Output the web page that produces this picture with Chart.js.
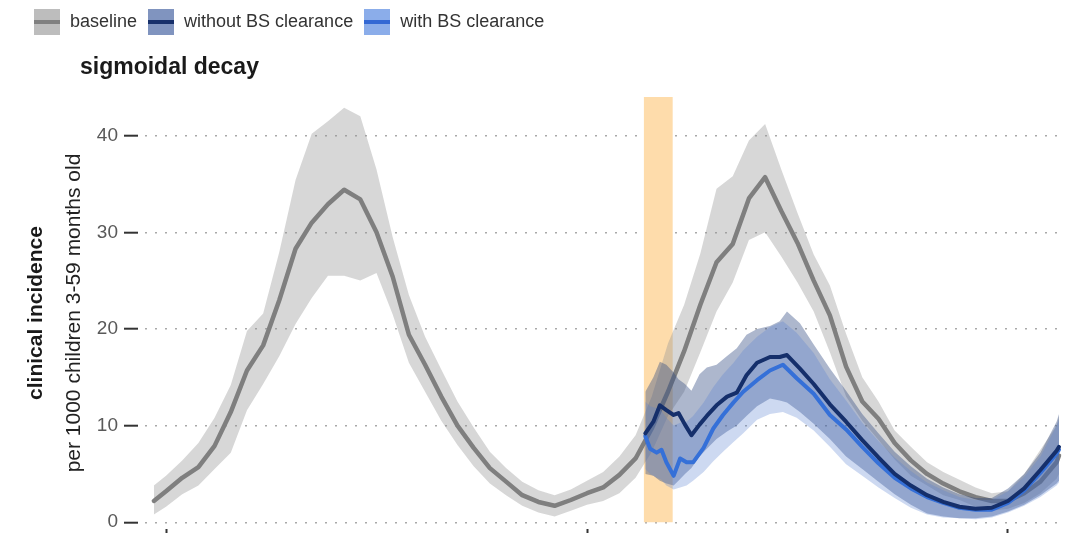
<!DOCTYPE html>
<html>
<head>
<meta charset="utf-8">
<script src="https://cdn.jsdelivr.net/npm/chart.js@4.4.1/dist/chart.umd.min.js"></script>
<style>
  html, body { margin: 0; padding: 0; background: #ffffff; overflow: hidden; }
  canvas { display: block; }
</style>
</head>
<body>
<canvas id="chart" width="1069" height="533"></canvas>
<script>
// ---- data (time in weeks, incidence per 1000 children 3-59 months old) ----
const seriesNames = ['baseline', 'without BS clearance', 'with BS clearance'];

const weeksBaseline = [-1.5, 0, 2, 4, 6, 8, 10, 12, 14, 16, 18, 20, 22, 24, 26, 28, 30, 32, 34, 36, 38, 40,
  42, 44, 46, 48, 50, 52, 54, 56, 58, 60, 62, 64, 66, 68, 70, 72, 74, 76, 78, 80, 82, 84, 86, 88, 90,
  92, 94, 96, 98, 100, 102, 104, 106, 108, 110, 110.3];
const baselineMean = [2.2, 3.2, 4.6, 5.7, 7.9, 11.4, 15.7, 18.3, 23.0, 28.3, 31.0, 32.9, 34.4, 33.4, 30.0, 25.4,
  19.4, 16.3, 13.0, 10.0, 7.7, 5.6, 4.2, 2.8, 2.1, 1.7, 2.3, 3.0, 3.6, 4.9, 6.6, 9.7, 13.5, 17.7, 22.5, 26.9,
  28.8, 33.5, 35.7, 32.2, 28.9, 25.0, 21.4, 16.1, 12.5, 10.7, 8.2, 6.4, 5.0, 4.0, 3.2, 2.6, 2.2, 2.2, 3.0, 4.2, 6.2, 6.9];
const baselineLow = [0.8, 1.6, 2.9, 3.8, 5.5, 7.2, 11.6, 14.3, 17.2, 20.5, 23.2, 25.5, 25.5, 25.0, 25.8, 21.5,
  16.5, 13.5, 10.5, 8.0, 5.8, 4.0, 2.8, 1.7, 1.0, 0.6, 1.2, 1.8, 2.2, 3.0, 4.6, 7.3, 11.0, 13.5, 17.6, 21.8,
  24.8, 29.2, 30.0, 27.5, 24.8, 21.8, 17.6, 13.0, 10.5, 8.5, 6.5, 4.8, 3.8, 2.8, 2.3, 1.6, 1.2, 1.4, 2.0, 3.0, 4.5, 5.0];
const baselineHigh = [3.8, 4.8, 6.4, 8.2, 10.8, 14.2, 19.8, 21.6, 28.0, 35.4, 40.2, 41.5, 42.9, 42.0, 36.5, 29.5,
  23.5, 19.2, 15.8, 12.5, 9.8, 7.3, 5.6, 4.2, 3.3, 2.8, 3.4, 4.3, 5.2, 6.8, 9.0, 13.0, 18.5, 22.5, 27.8, 34.5,
  35.8, 39.5, 41.2, 36.5, 32.0, 27.7, 24.5, 19.5, 15.0, 12.5, 9.5, 7.8, 6.2, 5.2, 4.4, 3.6, 3.0, 3.2, 5.0, 7.5, 10.0, 11.0];

const weeksWithout = [59.2, 60.2, 61.0, 61.8, 62.7, 63.3, 64.1, 64.9, 65.9, 66.8, 68.0, 69.3, 70.5, 71.7, 73.0,
  74.6, 75.8, 76.7, 78.3, 80, 82, 84, 86, 88, 90, 92, 94, 96, 98, 100, 102, 104, 106, 108, 110, 110.3];
const withoutMean = [9.2, 10.4, 12.1, 11.6, 11.1, 11.3, 10.1, 9.0, 10.1, 11.0, 12.1, 13.0, 13.4, 15.2, 16.5,
  17.1, 17.1, 17.3, 15.9, 14.3, 12.2, 10.4, 8.5, 6.7, 5.0, 3.8, 2.8, 2.1, 1.6, 1.4, 1.5, 2.2, 3.5, 5.4, 7.4, 7.8];
const withoutLow = [5.0, 4.8, 4.3, 4.0, 3.8, 4.3, 5.0, 5.6, 6.8, 7.6, 8.6, 9.4, 10.0, 11.0, 12.0,
  12.8, 12.6, 12.4, 11.4, 10.2, 8.6, 6.8, 5.5, 4.2, 2.9, 1.8, 0.9, 0.6, 0.4, 0.4, 0.6, 1.1, 1.8, 2.8, 4.0, 4.3];
const withoutHigh = [13.5, 15.0, 16.6, 16.3, 15.5, 14.8, 14.3, 13.6, 15.3, 16.0, 16.3, 17.2, 18.0, 19.4, 20.0,
  20.3, 20.8, 21.8, 20.6, 18.4, 15.9, 13.6, 11.2, 9.2, 7.3, 5.8, 4.5, 3.6, 2.9, 2.5, 2.5, 3.5, 5.0, 7.2, 10.4, 11.2];

const weeksWith = [59.2, 59.8, 60.6, 61.2, 61.8, 62.7, 63.5, 64.3, 65.1, 66.4, 67.6, 68.8, 70.1, 71.3, 73.0,
  74.6, 76.2, 77.9, 80, 82, 84, 86, 88, 90, 92, 94, 96, 98, 100, 102, 104, 106, 108, 110, 110.3];
const withMean = [8.9, 7.6, 7.2, 7.5, 6.2, 4.8, 6.6, 6.2, 6.2, 7.7, 9.7, 11.1, 12.4, 13.5, 14.7,
  15.7, 16.3, 14.9, 13.3, 11.1, 9.6, 7.8, 6.1, 4.6, 3.5, 2.6, 2.0, 1.5, 1.3, 1.3, 2.0, 3.3, 5.1, 7.1, 7.5];
const withLow = [5.5, 5.0, 4.6, 4.4, 3.8, 3.4, 3.6, 3.8, 4.3, 5.2, 6.3, 7.3, 8.3, 9.2, 10.6,
  11.2, 11.4, 10.8, 9.5, 7.8, 6.0, 4.8, 3.6, 2.5, 1.5, 0.8, 0.5, 0.4, 0.3, 0.5, 1.0, 1.7, 2.6, 3.8, 4.1];
const withHigh = [12.5, 12.0, 11.8, 11.5, 10.8, 10.0, 10.3, 10.4, 11.0, 12.4, 14.0, 15.3, 16.5, 17.8, 19.2,
  20.2, 20.8, 19.6, 17.5, 14.8, 12.6, 10.3, 8.4, 6.7, 5.3, 4.1, 3.3, 2.6, 2.3, 2.3, 3.2, 4.7, 6.8, 10.0, 10.6];

// intervention window (weeks) and its height on the incidence axis
const clearanceWindow = [59.0, 62.6];
const clearanceWindowTop = 44;

const yTickValues = [0, 10, 20, 30, 40];
const xTickWeeks = [0, 52, 104];

// ---- helpers ----
const FONT = '"Liberation Sans", Arial, Helvetica, sans-serif';
Chart.defaults.font.family = FONT;

function toPoints(xs, ys) {
  return xs.map((x, i) => ({ x: x, y: ys[i] }));
}

// legend swatch: filled square with the series line through its middle
function makeSwatch(fill, stroke) {
  const c = document.createElement('canvas');
  c.width = 26; c.height = 26;
  const g = c.getContext('2d');
  g.fillStyle = fill;
  g.fillRect(0, 0, 26, 26);
  g.fillStyle = stroke;
  g.fillRect(0, 11, 26, 4);
  return c;
}

const palette = {
  window: '#fedcab',
  baseBand: 'rgba(150,150,150,0.38)',
  baseLine: '#7f7f7f',
  withoutBand: 'rgba(50,75,130,0.40)',
  withoutLine: '#152f6b',
  withBand: 'rgba(90,130,210,0.30)',
  withLine: '#3570d8'
};

const swatches = [
  makeSwatch('#bdbdbd', '#808080'),
  makeSwatch('#8094bf', '#17306b'),
  makeSwatch('#8badea', '#3368d4')
];

// panel heading, drawn in the band reserved between the legend and the plot
const panelHeading = {
  id: 'panelHeading',
  afterDraw(chart) {
    const ctx = chart.ctx;
    ctx.save();
    ctx.font = 'bold 23px ' + FONT;
    ctx.fillStyle = '#1a1a1a';
    ctx.textAlign = 'left';
    ctx.textBaseline = 'alphabetic';
    ctx.fillText('sigmoidal decay', 80, 74);
    ctx.restore();
  }
};

const flat = { borderWidth: 0, pointRadius: 0, pointHoverRadius: 0 };

const datasets = [
  Object.assign({ label: 'window', data: [{ x: clearanceWindow[0], y: clearanceWindowTop }, { x: clearanceWindow[1], y: clearanceWindowTop }],
    fill: 'origin', backgroundColor: palette.window, order: 10 }, flat),
  Object.assign({ label: 'baseline low', data: toPoints(weeksBaseline, baselineLow), fill: false, order: 9 }, flat),
  Object.assign({ label: 'baseline high', data: toPoints(weeksBaseline, baselineHigh), fill: '-1', backgroundColor: palette.baseBand, order: 9 }, flat),
  { label: seriesNames[0], data: toPoints(weeksBaseline, baselineMean), borderColor: palette.baseLine, borderWidth: 4.5,
    pointRadius: 0, fill: false, order: 8, borderJoinStyle: 'round', borderCapStyle: 'round' },
  Object.assign({ label: 'without low', data: toPoints(weeksWithout, withoutLow), fill: false, order: 7 }, flat),
  Object.assign({ label: 'without high', data: toPoints(weeksWithout, withoutHigh), fill: '-1', backgroundColor: palette.withoutBand, order: 7 }, flat),
  Object.assign({ label: 'with low', data: toPoints(weeksWith, withLow), fill: false, order: 6 }, flat),
  Object.assign({ label: 'with high', data: toPoints(weeksWith, withHigh), fill: '-1', backgroundColor: palette.withBand, order: 6 }, flat),
  { label: seriesNames[2], data: toPoints(weeksWith, withMean), borderColor: palette.withLine, borderWidth: 4,
    pointRadius: 0, fill: false, order: 5, borderJoinStyle: 'round', borderCapStyle: 'round' },
  { label: seriesNames[1], data: toPoints(weeksWithout, withoutMean), borderColor: palette.withoutLine, borderWidth: 4,
    pointRadius: 0, fill: false, order: 4, borderJoinStyle: 'round', borderCapStyle: 'round' }
];

new Chart(document.getElementById('chart'), {
  type: 'line',
  data: { datasets: datasets },
  plugins: [panelHeading],
  options: {
    responsive: false,
    animation: false,
    devicePixelRatio: 1,
    events: [],
    layout: { padding: { left: 23, right: 7, top: 3, bottom: 0 } },
    plugins: {
      tooltip: { enabled: false },
      legend: {
        position: 'top',
        align: 'start',
        onClick: null,
        labels: {
          usePointStyle: true,
          pointStyleWidth: 28,
          padding: 10,
          color: '#333333',
          font: { size: 18 },
          generateLabels: () => seriesNames.map((name, i) => ({
            text: name,
            pointStyle: swatches[i],
            fontColor: '#333333',
            hidden: false,
            lineWidth: 0,
            datasetIndex: i
          }))
        }
      },
      // empty title block: keeps the heading band between legend and plot
      title: {
        display: true,
        text: '',
        position: 'top',
        weight: 500,
        font: { size: 20 },
        padding: { top: 32, bottom: 0 }
      }
    },
    scales: {
      x: {
        type: 'linear',
        min: -3.46,
        max: 110.67,
        afterBuildTicks: (s) => { s.ticks = xTickWeeks.map(v => ({ value: v })); },
        ticks: { display: false },
        grid: { display: true, drawOnChartArea: false, drawTicks: true, tickLength: 10, tickColor: '#333333', tickWidth: 2 },
        border: { display: false },
        afterFit: (s) => { s.height = 4; s.paddingLeft = 0; s.paddingRight = 0; }
      },
      y: {
        type: 'linear',
        position: 'left',
        weight: 0,
        min: -0.7,
        max: 44,
        afterBuildTicks: (s) => { s.ticks = yTickValues.map(v => ({ value: v })); },
        ticks: { color: '#595959', font: { size: 19 }, padding: 6 },
        grid: { color: '#a9a9a9', lineWidth: 1.4, tickLength: 14, tickColor: '#333333', tickWidth: 2, tickBorderDash: [] },
        border: { display: false, dash: [2, 8], dashOffset: 3 },
        title: { display: true, text: 'per 1000 children 3-59 months old', color: '#222222',
          font: { size: 21 }, padding: { top: 9, bottom: 0 } },
        afterFit: (s) => { s.width = 85; s.paddingTop = 0; s.paddingBottom = 0; }
      },
      yLabel: {
        type: 'linear',
        position: 'left',
        weight: 1,
        grid: { display: false },
        border: { display: false },
        ticks: { display: false },
        title: { display: true, text: 'clinical incidence', color: '#1a1a1a',
          font: { size: 21, weight: 'bold' }, padding: { top: 1, bottom: 0 } },
        afterFit: (s) => { s.width = 30; s.paddingTop = 0; s.paddingBottom = 0; }
      }
    }
  }
});
</script>
</body>
</html>
